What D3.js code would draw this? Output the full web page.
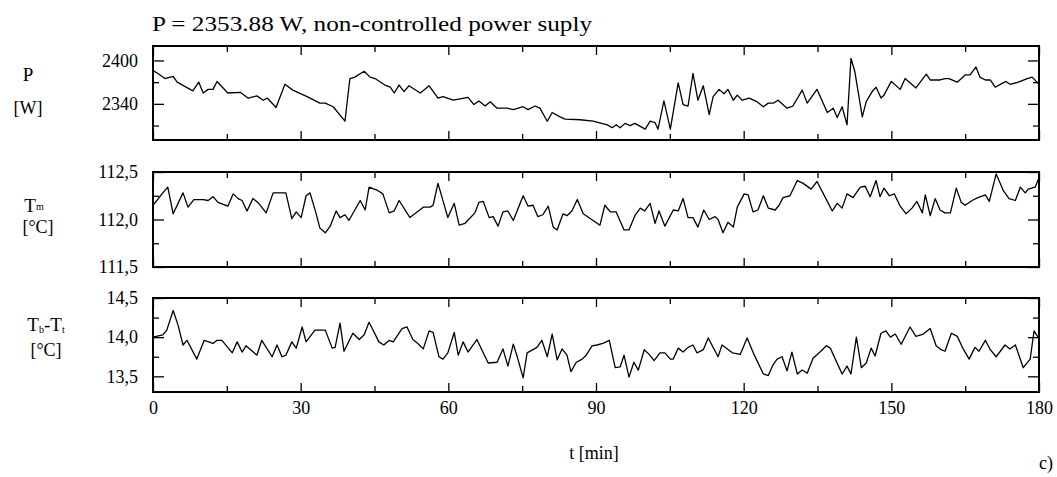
<!DOCTYPE html>
<html>
<head>
<meta charset="utf-8">
<script src="https://cdn.jsdelivr.net/npm/d3@7"></script>
<style>
  body { margin: 0; background: #fff; }
  text { font-family: "Liberation Serif", "Times New Roman", Times, "DejaVu Serif", serif; fill: #000; }
  .tick text { font-size: 18px; }
  .tick line { stroke: #000; stroke-width: 1.3; }
</style>
</head>
<body>
<div id="chart"></div>
<script>
/* values */
const pTime = [0, 1.0, 2.4, 4.1, 4.9, 8.1, 9.3, 10.2, 11.2, 12.2, 13.0, 15.2, 17.7, 19.3, 21.1, 22.4, 23.2, 25.0, 26.8, 28.4,
  31.3, 33.9, 35.0, 36.6, 39.0, 40.0, 41.0, 42.9, 44.1, 45.1, 47.1, 48.2, 49.0, 50.0, 51.0, 52.0, 54.3, 56.1, 57.9, 58.9,
  61.0, 64.0, 65.2, 66.2, 67.5, 68.5, 69.9, 71.9, 73.2, 75.2, 76.2, 77.6, 78.6, 80.1, 81.1, 82.7, 83.7, 86.8, 89.4, 92.3,
  93.3, 94.1, 94.9, 95.9, 96.9, 97.9, 100.0, 101.0, 102.0, 102.6, 103.8, 105.1, 106.7, 107.7, 108.7, 109.7, 110.7, 111.8, 113.0, 113.8,
  115.0, 116.0, 116.8, 117.9, 118.7, 119.7, 121.1, 122.7, 124.0, 125.0, 126.0, 127.0, 128.8, 130.0, 131.9, 132.9, 134.9, 137.0, 138.2, 139.0,
  140.0, 141.0, 141.8, 142.6, 144.1, 144.9, 146.1, 146.9, 147.9, 148.5, 150.0, 151.8, 152.8, 155.0, 157.1, 157.9, 159.9, 160.9, 161.7, 163.4,
  165.0, 166.0, 167.2, 168.0, 169.1, 170.1, 171.1, 172.7, 173.3, 174.1, 175.8, 177.6, 178.6, 179.6, 180];
const pWatts = [2386, 2382, 2375, 2378, 2370, 2358, 2370, 2355, 2360, 2360, 2371, 2355, 2356, 2348, 2351, 2345, 2348, 2335, 2367, 2359,
  2350, 2341, 2341, 2336, 2316, 2375, 2377, 2385, 2377, 2375, 2366, 2363, 2355, 2366, 2357, 2365, 2355, 2365, 2348, 2350,
  2345, 2349, 2339, 2344, 2337, 2343, 2334, 2334, 2332, 2336, 2332, 2337, 2334, 2316, 2328, 2322, 2319, 2318, 2316, 2311,
  2307, 2311, 2307, 2313, 2310, 2313, 2305, 2316, 2314, 2305, 2344, 2305, 2369, 2339, 2337, 2382, 2345, 2365, 2325, 2350,
  2360, 2354, 2360, 2345, 2352, 2345, 2348, 2343, 2336, 2341, 2341, 2345, 2334, 2337, 2359, 2341, 2360, 2328, 2334, 2321,
  2336, 2311, 2403, 2384, 2322, 2343, 2357, 2363, 2348, 2352, 2371, 2360, 2375, 2362, 2381, 2373, 2373, 2375, 2375, 2370,
  2380, 2380, 2391, 2377, 2373, 2373, 2363, 2369, 2371, 2367, 2370, 2375, 2377, 2370, 2367];

const tmTime = [0, 2.0, 3.0, 4.1, 6.1, 7.1, 8.3, 10.2, 11.2, 12.2, 13.2, 15.2, 16.3, 17.3, 18.1, 19.1, 20.3, 21.3, 23.0, 24.4,
  27.0, 28.2, 29.1, 30.1, 31.1, 31.9, 33.1, 33.9, 35.0, 36.0, 37.2, 38.0, 39.0, 39.8, 42.1, 43.1, 43.9, 45.5, 46.7, 48.0,
  49.0, 50.0, 52.2, 54.9, 56.3, 56.9, 57.9, 59.9, 61.2, 62.2, 63.4, 65.4, 66.2, 67.1, 68.3, 69.1, 70.1, 71.1, 72.1, 73.2,
  75.2, 76.2, 77.2, 78.2, 79.2, 80.3, 81.3, 82.1, 83.3, 84.1, 85.1, 86.2, 87.4, 89.4, 90.8, 91.8, 92.9, 94.1, 95.7, 96.7,
  97.9, 99.0, 99.9, 101.0, 102.0, 102.8, 104.0, 105.7, 106.7, 107.7, 108.7, 109.7, 110.7, 111.9, 113.0, 114.2, 114.8, 115.8, 116.8, 117.9,
  118.7, 120.1, 120.9, 121.9, 122.9, 124.0, 125.0, 126.4, 127.2, 128.0, 129.4, 130.9, 132.1, 133.7, 134.9, 136.6, 138.0, 139.0, 140.0, 141.0,
  142.2, 143.7, 144.7, 145.7, 146.9, 147.7, 148.5, 149.6, 150.6, 151.8, 153.0, 154.2, 155.2, 156.3, 156.9, 157.9, 158.9, 159.9, 160.9, 162.0,
  163.2, 164.2, 165.0, 166.4, 167.6, 169.1, 169.9, 171.3, 172.7, 173.9, 175.2, 176.2, 177.2, 177.8, 179.2, 180.0];
const tmValues = [112.15, 112.28, 112.34, 112.06, 112.28, 112.13, 112.21, 112.21, 112.2, 112.24, 112.18, 112.14, 112.27, 112.22, 112.2, 112.09, 112.22, 112.18, 112.07, 112.28,
  112.28, 112.01, 112.08, 112.02, 112.25, 112.28, 112.07, 111.91, 111.86, 111.93, 112.09, 112.02, 112.05, 111.99, 112.2, 112.1, 112.34, 112.31, 112.27, 112.07,
  112.09, 112.2, 112.02, 112.13, 112.13, 112.15, 112.38, 112.02, 112.17, 111.94, 111.96, 112.07, 112.18, 112.19, 112.02, 112.03, 111.93, 112.08, 112.09, 111.99,
  112.25, 112.14, 112.15, 112.03, 112.05, 112.14, 111.92, 111.89, 112.06, 112.04, 112.09, 112.21, 112.06, 111.99, 111.94, 112.15, 112.08, 112.08, 111.89, 111.89,
  112.04, 112.12, 112.09, 112.17, 111.96, 112.09, 111.93, 112.1, 112.09, 112.22, 112.02, 112.02, 111.92, 112.1, 112.0, 112.03, 112.0, 111.86, 111.97, 111.92,
  112.13, 112.27, 112.26, 112.08, 112.1, 112.25, 112.12, 112.1, 112.15, 112.23, 112.25, 112.41, 112.38, 112.32, 112.4, 112.23, 112.09, 112.17, 112.12, 112.27,
  112.23, 112.34, 112.35, 112.24, 112.41, 112.24, 112.33, 112.25, 112.27, 112.14, 112.06, 112.12, 112.19, 112.07, 112.26, 112.04, 112.22, 112.1, 112.07, 112.07,
  112.33, 112.18, 112.15, 112.2, 112.23, 112.26, 112.19, 112.48, 112.31, 112.22, 112.2, 112.34, 112.28, 112.32, 112.34, 112.44];

const dtTime = [0, 2.0, 2.8, 4.1, 5.1, 6.1, 6.9, 8.9, 10.4, 12.2, 13.0, 14.0, 16.1, 17.1, 18.1, 18.9, 21.1, 22.1, 24.2, 25.2,
  26.2, 27.0, 28.2, 29.1, 30.3, 31.1, 32.9, 35.0, 36.4, 37.0, 38.0, 38.8, 40.6, 41.9, 42.9, 43.9, 45.9, 46.9, 48.0, 48.8,
  50.6, 51.6, 52.8, 53.8, 54.9, 56.1, 56.9, 58.1, 58.9, 59.9, 61.2, 62.0, 63.0, 64.0, 65.8, 68.1, 69.9, 71.1, 72.1, 73.2,
  74.0, 75.2, 76.0, 78.0, 79.0, 80.1, 81.1, 82.1, 83.1, 84.1, 84.9, 86.0, 87.2, 88.0, 89.2, 90.2, 91.4, 92.7, 93.9, 94.9,
  95.7, 96.7, 97.7, 98.6, 99.8, 100.8, 101.8, 103.0, 104.0, 105.1, 105.7, 106.7, 107.7, 108.7, 109.7, 110.5, 111.8, 112.8, 114.8, 115.6,
  117.7, 119.3, 120.7, 122.1, 124.0, 125.0, 126.0, 126.8, 127.8, 128.8, 129.8, 130.9, 131.9, 132.9, 134.1, 135.5, 136.8, 137.6, 140.0, 141.0,
  141.8, 142.9, 143.9, 144.9, 145.9, 146.7, 147.9, 148.9, 149.8, 150.8, 152.0, 153.8, 155.0, 156.5, 157.9, 159.1, 160.1, 160.9, 162.2, 163.4,
  164.6, 165.8, 167.0, 167.8, 169.1, 170.1, 171.3, 173.1, 174.1, 175.2, 176.8, 178.2, 179.0, 180.0];
const dtValues = [14.0, 14.03, 14.09, 14.34, 14.15, 13.9, 13.96, 13.72, 13.96, 13.92, 13.96, 13.96, 13.8, 13.94, 13.81, 13.89, 13.77, 13.96, 13.75, 13.9,
  13.75, 13.77, 13.94, 13.86, 14.13, 13.94, 14.09, 14.09, 13.86, 13.87, 14.18, 13.82, 14.05, 13.97, 14.03, 14.19, 13.94, 13.9, 13.96, 13.94,
  14.11, 14.13, 13.97, 13.92, 13.85, 14.08, 14.06, 13.75, 13.72, 13.8, 14.06, 13.77, 13.94, 13.81, 13.97, 13.67, 13.68, 13.85, 13.63, 13.91,
  13.75, 13.48, 13.8, 13.87, 13.96, 13.75, 14.04, 13.71, 13.85, 13.77, 13.56, 13.68, 13.72, 13.77, 13.89, 13.9, 13.92, 13.96, 13.61, 13.62,
  13.77, 13.49, 13.68, 13.58, 13.84, 13.78, 13.7, 13.8, 13.8, 13.72, 13.72, 13.86, 13.81, 13.87, 13.9, 13.8, 13.84, 13.99, 13.75, 13.9,
  13.8, 13.78, 13.99, 13.78, 13.53, 13.51, 13.65, 13.72, 13.75, 13.57, 13.81, 13.53, 13.58, 13.54, 13.73, 13.81, 13.89, 13.86, 13.53, 13.63,
  13.53, 14.0, 13.61, 13.67, 13.86, 13.76, 14.05, 14.08, 14.0, 14.04, 13.91, 14.13, 14.01, 14.04, 14.11, 13.89, 13.84, 13.82, 14.05, 14.01,
  13.85, 13.72, 13.87, 13.82, 13.96, 13.84, 13.75, 13.9, 13.85, 13.9, 13.61, 13.72, 14.08, 13.98];

// ticks
const xMajor = [0, 30, 60, 90, 120, 150, 180];
const xMinor = [15, 45, 75, 105, 135, 165];
const pMajor = [2340, 2400], pMinor = [2310, 2370];
const tmMajor = [111.5, 112.0, 112.5], tmMinor = [111.75, 112.25];
const dtMajor = [13.5, 14.0, 14.5], dtMinor = [13.75, 14.25];

/* layout */
const W = 1057, H = 477;
const left = 153, right = 1039, plotW = right - left;

const svg = d3.select('#chart').append('svg')
  .attr('width', W).attr('height', H);

svg.append('rect').attr('width', W).attr('height', H).attr('fill', '#fff');

const x = d3.scaleLinear().domain([0, 180]).range([0, plotW]);

const comma = (f) => (d) => d3.format(f)(d).replace('.', ',');

const panels = [
  { top: 46, h: 94, domain: [2290, 2420], major: pMajor, minor: pMinor, fmt: d3.format('d'),
    t: pTime, v: pWatts },
  { top: 172, h: 95, domain: [111.5, 112.5], major: tmMajor, minor: tmMinor, fmt: comma('.1f'),
    t: tmTime, v: tmValues },
  { top: 298, h: 94, domain: [13.3, 14.5], major: dtMajor, minor: dtMinor, fmt: comma('.1f'),
    t: dtTime, v: dtValues },
];

const bigTick = 11, smallTick = 6;

panels.forEach((p, idx) => {
  const g = svg.append('g').attr('transform', `translate(${left}, ${p.top})`);
  const y = d3.scaleLinear().domain(p.domain).range([p.h, 0]);

  // y ticks, left side with labels
  g.append('g').call(d3.axisLeft(y).tickValues(p.major).tickSize(-bigTick).tickPadding(15).tickFormat(p.fmt));
  g.append('g').call(d3.axisLeft(y).tickValues(p.minor).tickSize(-smallTick).tickFormat(''));
  // right side
  g.append('g').attr('transform', `translate(${plotW},0)`)
    .call(d3.axisRight(y).tickValues(p.major).tickSize(-bigTick).tickFormat(''));
  g.append('g').attr('transform', `translate(${plotW},0)`)
    .call(d3.axisRight(y).tickValues(p.minor).tickSize(-smallTick).tickFormat(''));

  // x ticks top and bottom, pointing inward
  g.append('g').call(d3.axisTop(x).tickValues(xMajor).tickSize(-9).tickFormat(''));
  g.append('g').call(d3.axisTop(x).tickValues(xMinor).tickSize(-6).tickFormat(''));
  g.append('g').attr('transform', `translate(0,${p.h})`)
    .call(d3.axisBottom(x).tickValues(xMajor).tickSize(-9).tickPadding(9)
      .tickFormat(idx === 2 ? d3.format('d') : ''));
  g.append('g').attr('transform', `translate(0,${p.h})`)
    .call(d3.axisBottom(x).tickValues(xMinor).tickSize(-6).tickFormat(''));

  g.selectAll('.domain').remove();

  // data line
  const pts = p.t.map((t, i) => [t, p.v[i]]);
  g.append('path')
    .datum(pts)
    .attr('fill', 'none')
    .attr('stroke', '#000')
    .attr('stroke-width', 1.3)
    .attr('stroke-linejoin', 'round')
    .attr('d', d3.line().x((d) => x(d[0])).y((d) => y(d[1])));

  // frame
  g.append('rect')
    .attr('width', plotW).attr('height', p.h)
    .attr('fill', 'none').attr('stroke', '#000').attr('stroke-width', 2);
});

// titles and labels
const txt = (xx, yy, s, size, anchor) =>
  svg.append('text').attr('x', xx).attr('y', yy)
    .attr('font-size', size).attr('text-anchor', anchor || 'middle').text(s);

txt(152, 31, 'P = 2353.88 W, non-controlled power suply', 21, 'start')
  .attr('textLength', 440).attr('lengthAdjust', 'spacingAndGlyphs');

txt(28, 81, 'P', 19);
txt(28, 114, '[W]', 18);

const tm = svg.append('text').attr('x', 34).attr('y', 212).attr('font-size', 19)
  .attr('text-anchor', 'middle');
tm.append('tspan').text('T');
tm.append('tspan').attr('font-size', 10).attr('dy', -2).text('m');
txt(38, 233, '[°C]', 18);

const dt = svg.append('text').attr('x', 46).attr('y', 331).attr('font-size', 19)
  .attr('text-anchor', 'middle');
dt.append('tspan').text('T');
dt.append('tspan').attr('font-size', 10).attr('dy', 2).text('b');
dt.append('tspan').attr('dy', -2).text('-T');
dt.append('tspan').attr('font-size', 10).attr('dy', 2).text('t');
txt(46, 356, '[°C]', 18);

txt(594, 459, 't [min]', 18);
txt(1046, 469, 'c)', 18);
</script>
</body>
</html>
